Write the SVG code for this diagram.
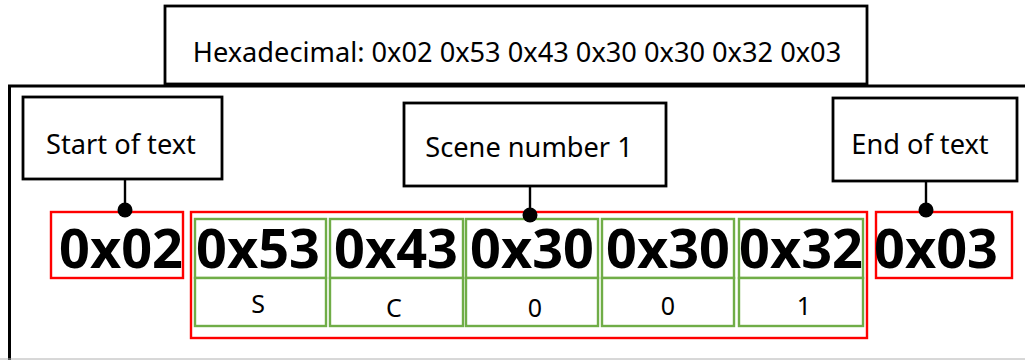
<svg xmlns="http://www.w3.org/2000/svg" width="1025" height="360" viewBox="0 0 1025 360">
  <style>
    .frame { fill: none; stroke: #000; stroke-width: 3; }
    .label { fill: #fff; stroke: #000; stroke-width: 2.8; }
    .label-text { font-family: "Noto Sans", "Open Sans", sans-serif; font-size: 27.2px; fill: #000; text-anchor: middle; }
    .byte-red { fill: #fff; stroke: #ff0000; stroke-width: 2.4; }
    .byte-green { fill: #fff; stroke: #70ad47; stroke-width: 2.4; }
    .hex { font-family: "Noto Sans", "Open Sans", sans-serif; font-weight: bold; font-size: 54px; fill: #000; text-anchor: middle; }
    .char { font-family: "Noto Sans", "Open Sans", sans-serif; font-size: 25px; fill: #000; text-anchor: middle; }
    .wire { stroke: #000; stroke-width: 2.4; fill: none; }
  </style>

  <rect width="1025" height="360" fill="#fff"/>

  <!-- outer frame, open to the right and bottom -->
  <g id="frame">
    <path class="frame" d="M9.5,360 V86 H1025"/>
    <line x1="0" y1="359" x2="1025" y2="359" stroke="#b0b0b0" stroke-width="1"/>
  </g>

  <!-- full byte sequence caption -->
  <g id="hex-caption">
    <rect class="label" x="165" y="6" width="702" height="78"/>
    <text class="label-text" x="517" y="61.5">Hexadecimal: 0x02 0x53 0x43 0x30 0x30 0x32 0x03</text>
  </g>

  <!-- annotation labels -->
  <g id="label-start">
    <rect class="label" x="23" y="97" width="199" height="82"/>
    <text class="label-text" x="121" y="154">Start of text</text>
  </g>
  <g id="label-scene">
    <rect class="label" x="404" y="103" width="262" height="83"/>
    <text class="label-text" x="529" y="157">Scene number 1</text>
  </g>
  <g id="label-end">
    <rect class="label" x="833" y="98" width="184" height="83"/>
    <text class="label-text" x="920" y="154">End of text</text>
  </g>

  <!-- framing bytes -->
  <g id="byte-stx">
    <rect class="byte-red" x="51" y="212" width="132" height="66"/>
    <text class="hex" x="121" y="268">0x02</text>
  </g>
  <g id="byte-etx">
    <rect class="byte-red" x="876" y="212" width="136" height="66"/>
    <text class="hex" x="936" y="268">0x03</text>
  </g>

  <!-- payload bytes -->
  <g id="payload">
    <rect class="byte-red" x="191" y="212" width="676" height="126"/>
  </g>
  <g id="byte-53">
    <rect class="byte-green" x="195" y="219" width="131" height="59"/>
    <rect class="byte-green" x="195" y="278" width="131" height="48"/>
    <text class="hex" x="258" y="268">0x53</text>
    <text class="char" x="258" y="313">S</text>
  </g>
  <g id="byte-43">
    <rect class="byte-green" x="330" y="219" width="133" height="59"/>
    <rect class="byte-green" x="330" y="278" width="133" height="48"/>
    <text class="hex" x="396" y="268">0x43</text>
    <text class="char" x="394" y="317">C</text>
  </g>
  <g id="byte-30a">
    <rect class="byte-green" x="466" y="219" width="132" height="59"/>
    <rect class="byte-green" x="466" y="278" width="132" height="48"/>
    <text class="hex" x="532" y="268">0x30</text>
    <text class="char" x="535" y="317">0</text>
  </g>
  <g id="byte-30b">
    <rect class="byte-green" x="602" y="219" width="132" height="59"/>
    <rect class="byte-green" x="602" y="278" width="132" height="48"/>
    <text class="hex" x="668" y="268">0x30</text>
    <text class="char" x="668" y="315">0</text>
  </g>
  <g id="byte-32">
    <rect class="byte-green" x="739" y="219" width="124" height="59"/>
    <rect class="byte-green" x="739" y="278" width="124" height="48"/>
    <text class="hex" x="801" y="268">0x32</text>
    <text class="char" x="804" y="315">1</text>
  </g>

  <!-- connectors: label to byte, ending in a dot -->
  <g id="connectors">
    <line class="wire" x1="125" y1="179" x2="125" y2="210"/>
    <circle cx="125" cy="210" r="7.5" fill="#000"/>
    <line class="wire" x1="530" y1="186" x2="530" y2="215"/>
    <circle cx="530" cy="215" r="7.5" fill="#000"/>
    <line class="wire" x1="926" y1="181" x2="926" y2="210"/>
    <circle cx="926" cy="210" r="7.5" fill="#000"/>
  </g>
</svg>
